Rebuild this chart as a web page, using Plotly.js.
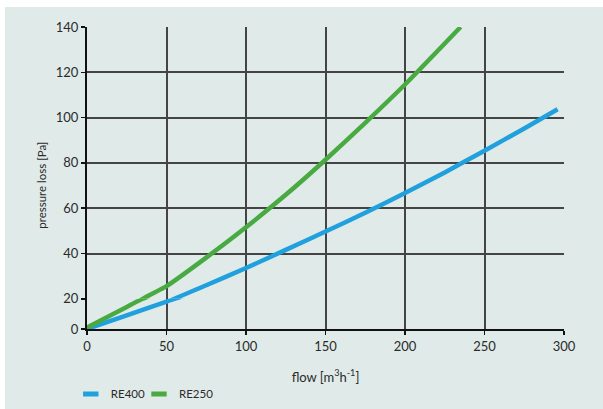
<!DOCTYPE html>
<html>
<head>
<meta charset="utf-8">
<script src="https://cdn.plot.ly/plotly-3.0.1.min.js"></script>
<style>
  html, body { margin: 0; padding: 0; background: #ffffff; width: 603px; height: 409px; overflow: hidden; }
  #panel { position: absolute; left: 5px; top: 7px; width: 598px; height: 402px; background: #e0ebe9; }
  #chart { width: 598px; height: 402px; }
</style>
</head>
<body>
<div id="panel"><div id="chart"></div></div>
<script>
// Series names
const seriesNames = ["RE400", "RE250"];
// RE400 flow [m3/h] and pressure loss [Pa]
const re400Flow = [0, 25, 50, 55, 75, 100, 125, 150, 175, 200, 225, 250, 275, 296];
const re400Loss = [0, 9.1, 18.2, 20, 26.0, 33.6, 41.6, 49.7, 58.0, 66.7, 75.8, 85.4, 95.2, 103.7];
// RE250 flow [m3/h] and pressure loss [Pa]
const re250Flow = [0, 25, 35, 50, 75, 100, 125, 150, 175, 200, 235];
const re250Loss = [1, 14.6, 20, 25.6, 38.2, 51.6, 65.9, 81.4, 97.7, 114.6, 140];
// Axis ticks (the reference uses a compressed 0-20 band below a linear 20-140 scale)
const xTicks = [0, 50, 100, 150, 200, 250, 300];
const yTicksUpper = [20, 40, 60, 80, 100, 120, 140];
const yTicksLower = [0];
const breakValue = 20;

const colors = { RE400: "rgb(32,160,220)", RE250: "rgb(74,170,66)" };
const font = "Lato, 'Open Sans', sans-serif";
const textColor = "#2a2a2a";
const gridColor = "#444444";

// lower band gets points up to the first one above the break; upper band from the last one below it
function split(xs, ys) {
  const lo = { x: [], y: [] }, hi = { x: [], y: [] };
  const firstAbove = ys.findIndex(v => v > breakValue);
  let lastBelow = -1;
  ys.forEach((v, i) => { if (v < breakValue) lastBelow = i; });
  xs.forEach((x, i) => {
    if (i <= firstAbove) { lo.x.push(x); lo.y.push(ys[i]); }
    if (i >= lastBelow) { hi.x.push(x); hi.y.push(ys[i]); }
  });
  return { lo, hi };
}

const series = [
  { name: seriesNames[0], x: re400Flow, y: re400Loss, legend: "legend" },
  { name: seriesNames[1], x: re250Flow, y: re250Loss, legend: "legend2" }
];

const traces = [];
series.forEach(s => {
  const parts = split(s.x, s.y);
  const line = { color: colors[s.name], width: 4.5, shape: "spline", smoothing: 0.5 };
  traces.push({ type: "scatter", mode: "lines", x: parts.lo.x, y: parts.lo.y, xaxis: "x", yaxis: "y2",
    line, showlegend: false, hoverinfo: "skip" });
  traces.push({ type: "scatter", mode: "lines", x: parts.hi.x, y: parts.hi.y, xaxis: "x", yaxis: "y",
    line, showlegend: false, hoverinfo: "skip" });
});
series.forEach(s => {
  traces.push({ type: "scatter", mode: "markers", x: [null], y: [null], xaxis: "x", yaxis: "y2",
    name: s.name, showlegend: true, legend: s.legend,
    marker: { symbol: "line-ew", size: 11, color: colors[s.name], line: { color: colors[s.name], width: 6 } } });
});

const split_d = 0.1;
const axisCommon = {
  showgrid: true, gridcolor: gridColor, gridwidth: 2,
  showline: true, linecolor: "#111", linewidth: 2,
  ticks: "outside", ticklen: 4, tickwidth: 1.5, tickcolor: "#111",
  zeroline: false, fixedrange: true,
  tickfont: { family: font, size: 13, color: textColor }
};
const legendCommon = {
  orientation: "h", xanchor: "left", y: -0.215, yanchor: "middle",
  font: { family: font, size: 11.5, color: textColor }, bgcolor: "rgba(0,0,0,0)"
};

const layout = {
  width: 598, height: 402,
  margin: { l: 82, r: 39, t: 20, b: 80, autoexpand: false },
  paper_bgcolor: "#e0ebe9", plot_bgcolor: "#e0ebe9",
  showlegend: true,
  legend: Object.assign({}, legendCommon, { x: -0.034 }),
  legend2: Object.assign({}, legendCommon, { x: 0.109 }),
  xaxis: Object.assign({}, axisCommon, {
    range: [0, 300], tickvals: xTicks, anchor: "y2",
    title: { text: "flow [m<sup>3</sup>h<sup>-1</sup>]", font: { family: font, size: 13, color: textColor }, standoff: 20 }
  }),
  yaxis: Object.assign({}, axisCommon, {
    domain: [split_d, 1], range: [breakValue, 140], tickvals: yTicksUpper, anchor: "x"
  }),
  yaxis2: Object.assign({}, axisCommon, {
    domain: [0, split_d], range: [0, breakValue], tickvals: yTicksLower, anchor: "x"
  }),
  annotations: [{
    text: "pressure loss [Pa]", xref: "paper", yref: "paper", x: -0.096, y: 0.475,
    xanchor: "center", yanchor: "middle", textangle: -90, showarrow: false,
    font: { family: font, size: 11.5, color: textColor }
  }]
};

Plotly.newPlot("chart", traces, layout, { displayModeBar: false, staticPlot: true });
</script>
</body>
</html>
